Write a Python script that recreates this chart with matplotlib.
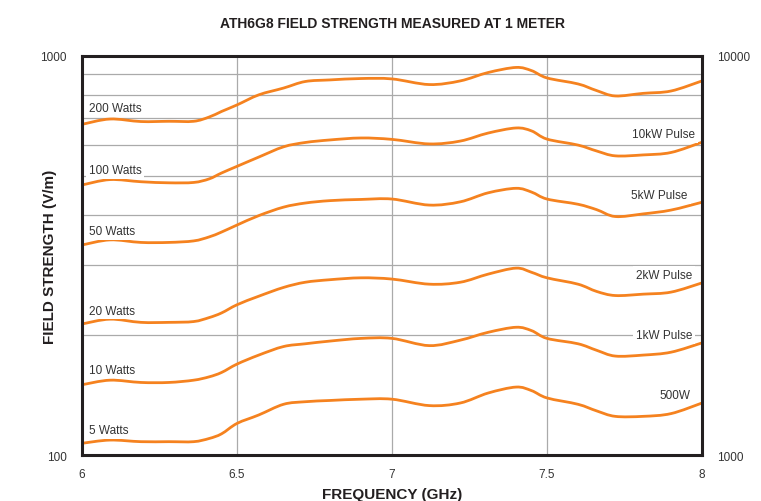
import matplotlib
matplotlib.use("Agg")
import numpy as np
import matplotlib.pyplot as plt
from matplotlib.path import Path
from matplotlib.patches import PathPatch
from matplotlib.ticker import FixedLocator, NullFormatter

plt.rcParams['font.family'] = ['Liberation Sans', 'DejaVu Sans']

# frequency points (GHz)
freq = [6.0, 6.09, 6.19, 6.28, 6.36, 6.41, 6.45, 6.5, 6.57, 6.65, 6.72, 6.8, 6.9,
        7.0, 7.12, 7.22, 7.31, 7.4, 7.45, 7.5, 7.6, 7.66, 7.72, 7.81, 7.9, 8.0]

# field strength (V/m) on the left scale
w200 = [674, 695, 685, 686, 686, 703, 726, 754, 799, 831, 863, 871, 878,
        876, 848, 866, 909, 936, 919, 881, 851, 819, 794, 806, 817, 866]
w100 = [475, 490, 484, 481, 482, 492, 509, 529, 558, 592, 607, 616, 623,
        618, 602, 612, 641, 660, 649, 619, 598, 578, 562, 565, 573, 608]
w50 = [336, 346, 341, 341, 344, 352, 362, 377, 398, 418, 428, 434, 437,
       438, 423, 431, 454, 466, 456, 438, 425, 412, 396, 402, 411, 430]
w20 = [213, 219, 215, 215, 216, 221, 227, 238, 250, 263, 271, 275, 278,
       276, 268, 271, 284, 294, 287, 278, 268, 257, 251, 253, 256, 270]
w10 = [150, 154, 152, 152, 154, 157, 161, 169, 178, 187, 190, 193, 196,
       196, 188, 194, 203, 209, 205, 196, 190, 183, 177, 178, 181, 191]
w5 = [107, 109, 108, 108, 108, 110, 113, 120, 126, 134, 136, 137, 138,
      138, 133, 135, 143, 148, 145, 139, 134, 129, 125, 125, 127, 135]

series = [w200, w100, w50, w20, w10, w5]
left_labels = ['200 Watts', '100 Watts', '50 Watts', '20 Watts', '10 Watts', '5 Watts']
right_labels = ['10kW Pulse', '5kW Pulse', '2kW Pulse', '1kW Pulse', '500W']

orange = '#f5821f'
dark = '#231f20'
txt = '#333333'


def smooth_path(xs, ys):
    """Bezier path through the points (Catmull-Rom, done in log-y space)"""
    x = np.asarray(xs, float)
    ly = np.log10(np.asarray(ys, float))
    px = np.concatenate([[x[0]], x, [x[-1]]])
    py = np.concatenate([[ly[0]], ly, [ly[-1]]])
    verts = [(x[0], ly[0])]
    codes = [Path.MOVETO]
    for i in range(1, len(px) - 2):
        c1 = (px[i] + (px[i + 1] - px[i - 1]) / 6, py[i] + (py[i + 1] - py[i - 1]) / 6)
        c2 = (px[i + 1] - (px[i + 2] - px[i]) / 6, py[i + 1] - (py[i + 2] - py[i]) / 6)
        verts += [c1, c2, (px[i + 1], py[i + 1])]
        codes += [Path.CURVE4] * 3
    verts = [(vx, 10 ** vy) for vx, vy in verts]
    return Path(verts, codes)


fig = plt.figure(figsize=(7.61, 5.02), dpi=100)
ax = fig.add_axes([0.1078, 0.0916, 0.8147, 0.7949])

ax.set_yscale('log')
ax.set_xlim(6, 8)
ax.set_ylim(100, 1000)

for s in series:
    ax.add_patch(PathPatch(smooth_path(freq, s), facecolor='none', edgecolor=orange,
                           lw=2.0, joinstyle='round', capstyle='butt', zorder=3))

ax.set_xticks([6, 6.5, 7, 7.5, 8])
ax.set_xticklabels(['6', '6.5', '7', '7.5', '8'])
ax.yaxis.set_major_locator(FixedLocator([100, 1000]))
ax.yaxis.set_major_formatter(plt.FixedFormatter(['100', '1000']))
ax.yaxis.set_minor_locator(FixedLocator([200, 300, 400, 500, 600, 700, 800, 900]))
ax.yaxis.set_minor_formatter(NullFormatter())

ax.grid(True, which='minor', axis='y', color='#aaaaaa', lw=0.9)
ax.grid(True, which='major', axis='x', color='#aaaaaa', lw=0.9)
ax.tick_params(which='both', length=0, labelsize=8.5, colors=txt)
ax.tick_params(axis='y', pad=11)
ax.tick_params(axis='x', pad=9)

for sp in ax.spines.values():
    sp.set_color(dark)
    sp.set_linewidth(2.2)
    sp.set_zorder(5)

ax2 = ax.twinx()
ax2.set_yscale('log')
ax2.set_ylim(1000, 10000)
ax2.yaxis.set_major_locator(FixedLocator([1000, 10000]))
ax2.yaxis.set_major_formatter(plt.FixedFormatter(['1000', '10000']))
ax2.yaxis.set_minor_locator(FixedLocator([]))
ax2.tick_params(which='both', length=0, labelsize=8.5, colors=txt, pad=11)
for sp in ax2.spines.values():
    sp.set_visible(False)

# curve labels
box = dict(facecolor='white', edgecolor='none', pad=2)
left_y = [0.870, 0.715, 0.561, 0.362, 0.214, 0.063]
for lab, yy in zip(left_labels, left_y):
    ax.text(0.0105, yy, lab, transform=ax.transAxes, fontsize=8.5, color=txt,
            ha='left', va='center', bbox=box, zorder=4)

right_pos = [(0.989, 0.805), (0.977, 0.652), (0.984, 0.452), (0.984, 0.301), (0.981, 0.150)]
for lab, (xx, yy) in zip(right_labels, right_pos):
    ax.text(xx, yy, lab, transform=ax.transAxes, fontsize=8.5, color=txt,
            ha='right', va='center', bbox=box, zorder=4)

ax.set_title('ATH6G8 FIELD STRENGTH MEASURED AT 1 METER', fontsize=10,
             fontweight='bold', color=dark, pad=21)
ax.set_xlabel('FREQUENCY (GHz)', fontsize=11, fontweight='bold', color=dark)
ax.set_ylabel('FIELD STRENGTH (V/m)', fontsize=11, fontweight='bold', color=dark)
ax.xaxis.set_label_coords(0.5, -0.080)
ax.yaxis.set_label_coords(-0.040, 0.5)

fig.savefig('out.png', dpi=100)
